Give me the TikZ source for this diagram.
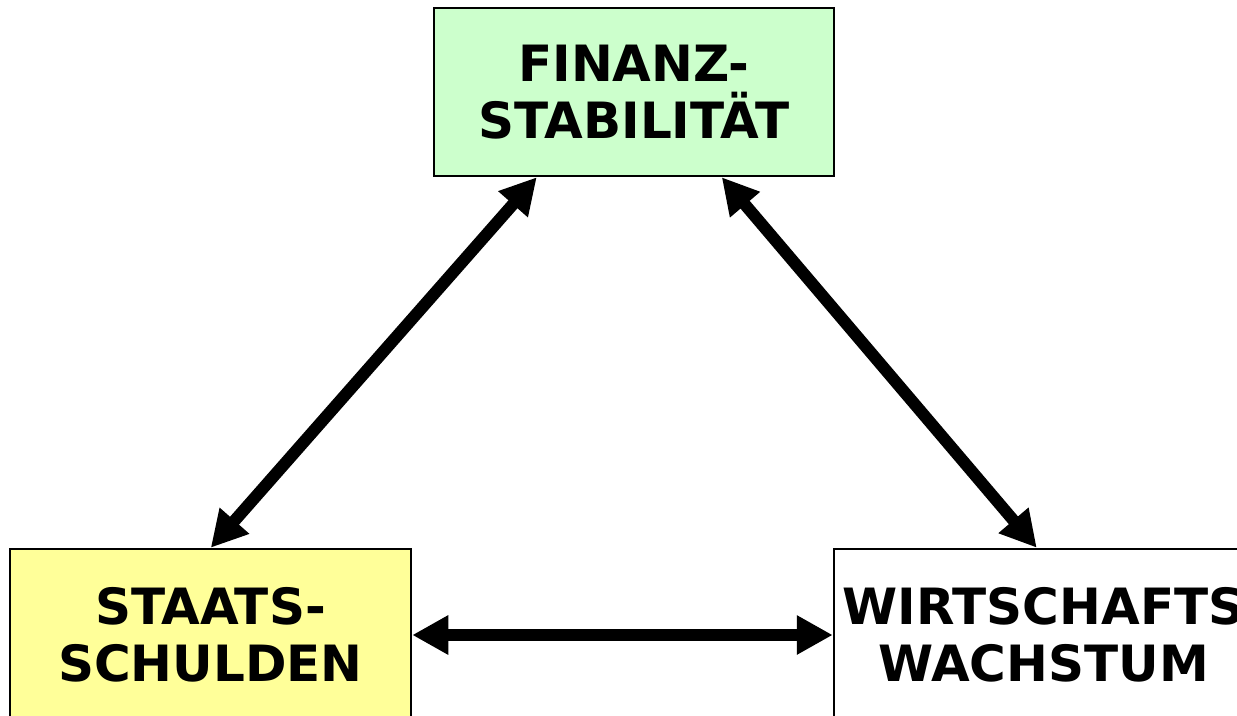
\documentclass[tikz,border=0pt]{standalone}
\usepackage{fontspec}
\setmainfont{DejaVu Sans}
\usetikzlibrary{arrows.meta,calc}
\definecolor{boxgreen}{HTML}{CCFFCC}
\definecolor{boxyellow}{HTML}{FFFF99}
\tikzset{
  topic/.style={draw=black, line width=2.5pt, rectangle, align=center,
    font=\bfseries\fontsize{50}{57}\selectfont, inner sep=0pt},
  link/.style={line width=12pt, {Triangle[length=36pt,width=37pt]}-{Triangle[length=36pt,width=37pt]}}
}
\begin{document}
\begin{tikzpicture}[x=1pt,y=-1pt]
\useasboundingbox (0,0) rectangle (1237,715);
\clip (0,0) rectangle (1237,715);
\node[topic, fill=boxgreen, minimum width=400pt, minimum height=168pt] (fs) at (634,92) {FINANZ-\\STABILITÄT};
\node[topic, fill=boxyellow, minimum width=401pt, minimum height=172pt] (sb) at (210.5,635) {STAATS-\\SCHULDEN};
\node[topic, fill=white, minimum width=419pt, minimum height=172pt] (wb) at (1043.5,635) {WIRTSCHAFTS\\WACHSTUM};
\coordinate (fsL) at ($(fs.south west)+(104pt,0)$);
\coordinate (fsR) at ($(fs.south west)+(289pt,0)$);
\coordinate (sbT) at ($(sb.north west)+(202pt,0)$);
\coordinate (wbT) at ($(wb.north west)+(204pt,0)$);
\draw[link] (fsL) -- (sbT);
\draw[link] (fsR) -- (wbT);
\draw[link] (sb.east) -- (wb.west);
\end{tikzpicture}
\end{document}
